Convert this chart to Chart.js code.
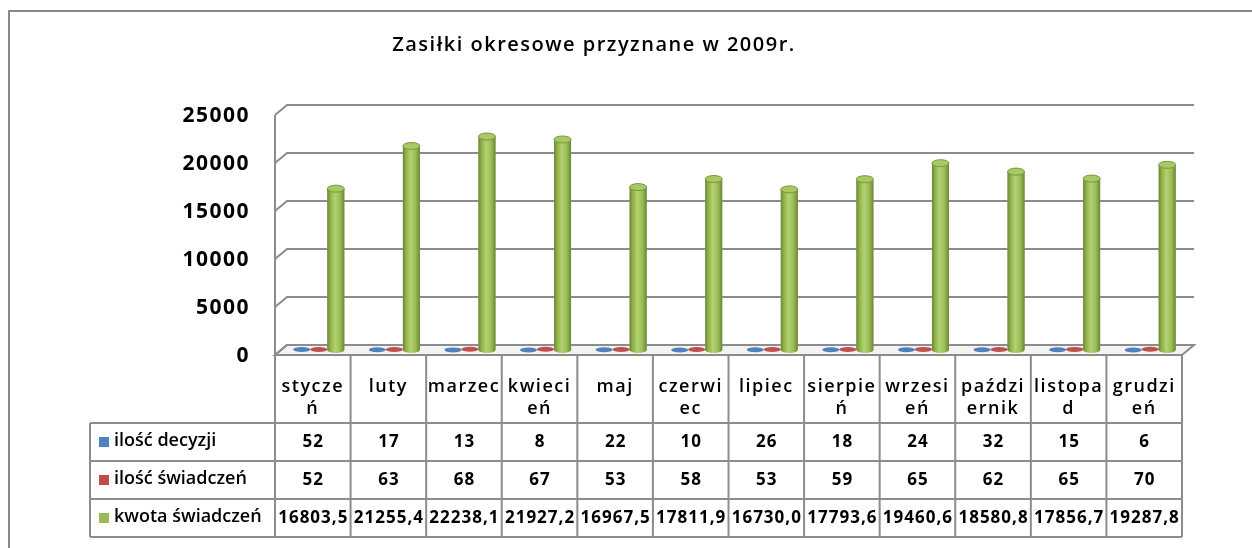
<!DOCTYPE html>
<html>
<head>
<meta charset="utf-8">
<script src="https://cdn.jsdelivr.net/npm/chart.js@4.4.1/dist/chart.umd.min.js"></script>
<style>
html,body{margin:0;padding:0;background:#fff;}
canvas{display:block;}
</style>
</head>
<body>
<canvas id="c" width="1252" height="548"></canvas>
<script>
// ---- data ----
const chartTitle = 'Zasiłki okresowe przyznane w 2009r.';
const categories = [['stycze','ń'],'luty','marzec',['kwieci','eń'],'maj',['czerwi','ec'],'lipiec',['sierpie','ń'],['wrzesi','eń'],['paździ','ernik'],['listopa','d'],['grudzi','eń']];
const seriesNames = ['ilość decyzji','ilość świadczeń','kwota świadczeń'];
const iloscDecyzji = [52,17,13,8,22,10,26,18,24,32,15,6];
const iloscSwiadczen = [52,63,68,67,53,58,53,59,65,62,65,70];
const kwotaSwiadczen = [16803.5,21255.4,22238.1,21927.2,16967.5,17811.9,16730.0,17793.6,19460.6,18580.8,17856.7,19287.8];
const yTicks = [0,5000,10000,15000,20000,25000];
const seriesColors = ['#4f81bd','#c0504d','#9bbb59'];

const FONT = "'Open Sans', 'Noto Sans', sans-serif";
const LINE = '#8c8c8c';
const DX = 6, DY = 5;

function fmt(v, si){ return si === 2 ? v.toFixed(1).replace('.', ',') : String(v); }

const excel3d = {
  id: 'excel3d',
  beforeDraw(chart){
    const ctx = chart.ctx;
    ctx.save();
    ctx.fillStyle = '#fff';
    ctx.fillRect(0,0,chart.width,chart.height);
    ctx.restore();
    ctx.letterSpacing = '1.5px';
  },
  beforeDatasetsDraw(chart){
    const ctx = chart.ctx, ys = chart.scales.y;
    const L = chart.chartArea.left, R = chart.chartArea.right;
    const y0 = ys.getPixelForValue(0), yTop = ys.getPixelForValue(yTicks[yTicks.length-1]);
    ctx.save();
    ctx.beginPath();
    ctx.moveTo(L+DX, y0-DY); ctx.lineTo(R+DX, y0-DY); ctx.lineTo(R-DX, y0+DY); ctx.lineTo(L-DX, y0+DY); ctx.closePath();
    ctx.fillStyle = '#f3f3f3'; ctx.fill();
    ctx.strokeStyle = LINE; ctx.lineWidth = 2; ctx.stroke();
    yTicks.forEach(v => {
      const y = ys.getPixelForValue(v);
      ctx.beginPath();
      ctx.moveTo(L-DX, y+DY); ctx.lineTo(L+DX, y-DY); ctx.lineTo(R+DX, y-DY);
      ctx.stroke();
    });
    ctx.beginPath();
    ctx.moveTo(L-DX, yTop+DY); ctx.lineTo(L-DX, y0+DY);
    ctx.stroke();
    ctx.restore();
  },
  afterDatasetsDraw(chart){
    const ctx = chart.ctx;
    ctx.save();
    chart.data.datasets.forEach((ds, di) => {
      const meta = chart.getDatasetMeta(di);
      meta.data.forEach(el => {
        const x = el.x, top = el.y, base = el.base, w = el.width, rx = w/2;
        if (base - top > 4) {
          const g = ctx.createLinearGradient(x-rx, 0, x+rx, 0);
          g.addColorStop(0, '#6b8731');
          g.addColorStop(0.18, '#8fb04c');
          g.addColorStop(0.45, '#b3d371');
          g.addColorStop(0.75, '#9bbb59');
          g.addColorStop(1, '#6b8731');
          ctx.fillStyle = g;
          ctx.fillRect(x-rx, top, w, base-top);
          ctx.beginPath(); ctx.ellipse(x, base, rx, 3, 0, 0, Math.PI); ctx.fill();
          ctx.beginPath(); ctx.ellipse(x, top, rx, 3.5, 0, 0, Math.PI*2);
          ctx.fillStyle = '#a8c866'; ctx.fill();
          ctx.strokeStyle = '#7a963f'; ctx.lineWidth = 1; ctx.stroke();
        } else {
          ctx.beginPath(); ctx.ellipse(x, top, rx, 2.5, 0, 0, Math.PI*2);
          ctx.fillStyle = ds.backgroundColor; ctx.fill();
        }
      });
    });
    ctx.restore();
  },
  afterDraw(chart){
    const ctx = chart.ctx, xs = chart.scales.x, ys = chart.scales.y;
    const L = chart.chartArea.left, R = chart.chartArea.right;
    const n = categories.length;
    const w = (R - L) / n;
    const y0 = ys.getPixelForValue(0);
    const headTop = y0 + DY;
    const rows = [423, 461, 499, 537];
    const legendLeft = 90;
    const colLeft = i => xs.getPixelForValue(i) - w/2 - DX;
    const frontRight = colLeft(n-1) + w;
    ctx.save();
    ctx.strokeStyle = LINE; ctx.lineWidth = 2;
    for (let i = 0; i <= n; i++) {
      const x = i < n ? colLeft(i) : frontRight;
      ctx.beginPath(); ctx.moveTo(x, headTop); ctx.lineTo(x, rows[3]); ctx.stroke();
    }
    ctx.beginPath(); ctx.moveTo(legendLeft, rows[0]); ctx.lineTo(legendLeft, rows[3]); ctx.stroke();
    rows.forEach(y => { ctx.beginPath(); ctx.moveTo(legendLeft, y); ctx.lineTo(frontRight, y); ctx.stroke(); });
    const series = [iloscDecyzji, iloscSwiadczen, kwotaSwiadczen];
    ctx.fillStyle = '#000';
    ctx.textBaseline = 'middle';
    series.forEach((arr, si) => {
      const cy = (rows[si] + rows[si+1]) / 2;
      ctx.font = 'bold 17px ' + FONT;
      ctx.letterSpacing = '1px';
      ctx.textAlign = 'center';
      arr.forEach((v, i) => ctx.fillText(fmt(v, si), colLeft(i) + w/2 + 0.5, cy));
      ctx.fillStyle = seriesColors[si];
      ctx.fillRect(99, cy - 5, 10, 10);
      ctx.fillStyle = '#000';
      ctx.textAlign = 'left';
      ctx.font = '600 18px ' + FONT;
      ctx.letterSpacing = '0px';
      ctx.fillText(seriesNames[si], 114, cy - 1);
    });
    ctx.strokeStyle = '#888'; ctx.lineWidth = 2;
    ctx.beginPath(); ctx.moveTo(9, chart.height); ctx.lineTo(9, 11); ctx.lineTo(chart.width, 11); ctx.stroke();
    ctx.restore();
  }
};

new Chart(document.getElementById('c'), {
  type: 'bar',
  data: {
    labels: categories,
    datasets: [
      { label: seriesNames[0], data: iloscDecyzji, backgroundColor: seriesColors[0] },
      { label: seriesNames[1], data: iloscSwiadczen, backgroundColor: seriesColors[1] },
      { label: seriesNames[2], data: kwotaSwiadczen, backgroundColor: seriesColors[2] }
    ]
  },
  options: {
    responsive: false,
    animation: false,
    devicePixelRatio: 1,
    categoryPercentage: 0.675,
    barPercentage: 1.0,
    layout: { padding: { left: 0, right: 64, top: 0, bottom: 0 } },
    plugins: {
      legend: { display: false },
      tooltip: { enabled: false },
      title: {
        display: true, text: chartTitle, color: '#000',
        font: { family: FONT, size: 20, weight: '600', lineHeight: 1.2 },
        padding: { top: 33, bottom: 53 }
      }
    },
    scales: {
      x: {
        offset: true,
        grid: { display: false, drawTicks: false },
        border: { display: false },
        ticks: { autoSkip: false, maxRotation: 0, minRotation: 0, padding: 26, labelOffset: -6, color: '#000',
          font: { family: FONT, size: 18, weight: '600', lineHeight: 22/18 } },
        afterFit(s){ s.height = 198; }
      },
      y: {
        min: 0, max: 25000,
        grid: { display: false, drawTicks: false },
        border: { display: false },
        ticks: { stepSize: 5000, padding: 31, labelOffset: 6, color: '#000',
          font: { family: FONT, size: 21, weight: 'bold' },
          callback: v => String(v) },
        afterFit(s){ s.width = 281; }
      }
    }
  },
  plugins: [excel3d]
});
</script>
</body>
</html>
